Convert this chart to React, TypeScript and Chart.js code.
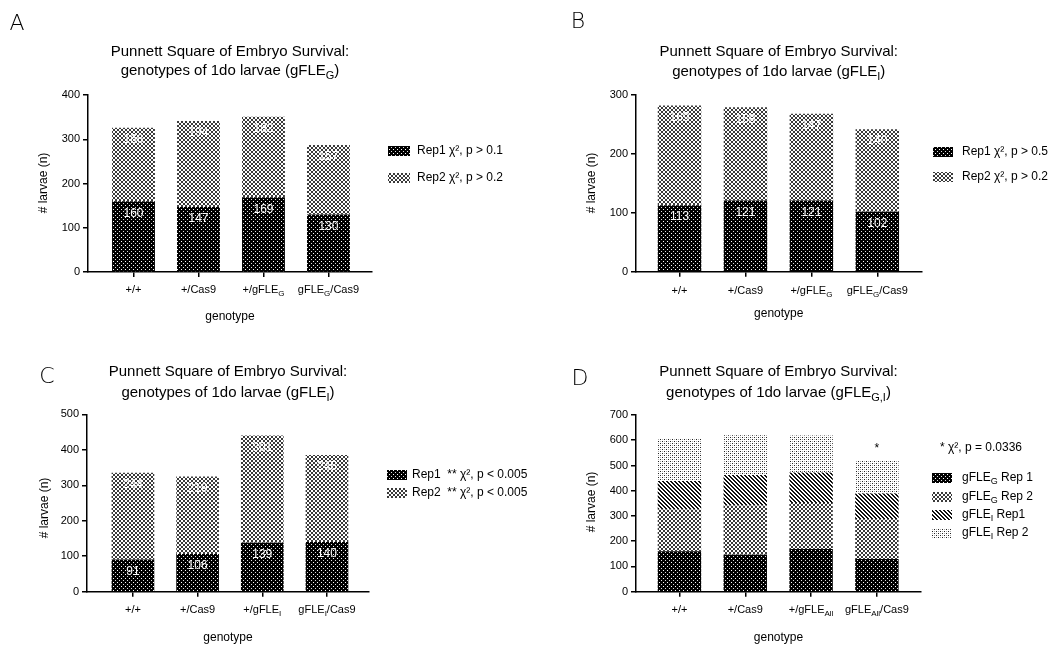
import React, { useEffect, useRef } from 'react';
import { Chart, registerables } from 'chart.js';

Chart.register(...registerables);

const FONT = '"Liberation Sans", Arial, Helvetica, sans-serif';

// ---------- Panel A ----------
const catsA = ['+/+', '+/Cas9', '+/gFLE_{G}', 'gFLE_{G}/Cas9'];
const rep1A = [160, 147, 169, 130];
const rep2A = [166, 194, 182, 157];
const yTicksA = [0, 100, 200, 300, 400];
const legendA = ['Rep1 χ², p > 0.1', 'Rep2 χ², p > 0.2'];
const titleA = ['Punnett Square of Embryo Survival:', 'genotypes of 1do larvae (gFLE_{G})'];

// ---------- Panel B ----------
const catsB = ['+/+', '+/Cas9', '+/gFLE_{G}', 'gFLE_{G}/Cas9'];
const rep1B = [113, 121, 121, 102];
const rep2B = [169, 158, 147, 140];
const yTicksB = [0, 100, 200, 300];
const legendB = ['Rep1 χ², p > 0.5', 'Rep2 χ², p > 0.2'];
const titleB = ['Punnett Square of Embryo Survival:', 'genotypes of 1do larvae (gFLE_{I})'];

// ---------- Panel C ----------
const catsC = ['+/+', '+/Cas9', '+/gFLE_{I}', 'gFLE_{I}/Cas9'];
const rep1C = [91, 106, 139, 140];
const rep2C = [244, 219, 301, 245];
const yTicksC = [0, 100, 200, 300, 400, 500];
const legendC = ['Rep1  ** χ², p < 0.005', 'Rep2  ** χ², p < 0.005'];
const titleC = ['Punnett Square of Embryo Survival:', 'genotypes of 1do larvae (gFLE_{I})'];

// ---------- Panel D ----------
const catsD = ['+/+', '+/Cas9', '+/gFLE_{All}', 'gFLE_{All}/Cas9'];
const gRep1D = [160, 147, 169, 130];
const gRep2D = [166, 194, 182, 157];
const iRep1D = [113, 121, 121, 102];
const iRep2D = [169, 158, 147, 131];
const yTicksD = [0, 100, 200, 300, 400, 500, 600, 700];
const legendD = ['gFLE_{G} Rep 1', 'gFLE_{G} Rep 2', 'gFLE_{I} Rep1', 'gFLE_{I} Rep 2'];
const legendHeaderD = '* χ², p = 0.0336';
const starsD = ['', '', '', '*'];
const titleD = ['Punnett Square of Embryo Survival:', 'genotypes of 1do larvae (gFLE_{G,I})'];

const yTitle = '# larvae (n)';
const xTitle = 'genotype';

type Series = { data: number[]; fill: string; label: string; values: boolean };
type Panel = {
  letter: string;
  box: { left: number; top: number; w: number; h: number };
  area: { l: number; r: number; t: number; b: number };
  xMin: number;
  xMax: number;
  cats: string[];
  series: Series[];
  yTicks: number[];
  letterPos: [number, number];
  title: string[];
  titleY: [number, number];
  titleSize: number;
  yTitlePos: [number, number];
  xLabelY: number;
  xTitleY: number;
  legendSw: [number, number];
  legendTextX: number;
  legendYs: number[];
  legendTexts: string[];
  legendHeader?: { text: string; x: number; y: number };
  stars?: string[];
};

const panels: Panel[] = [
  {
    letter: 'A',
    box: { left: 0, top: 0, w: 530, h: 325 },
    area: { l: 88, r: 372, t: 95, b: 272 },
    xMin: -0.7, xMax: 3.67,
    cats: catsA,
    series: [
      { data: rep1A, fill: 'dark', label: legendA[0], values: true },
      { data: rep2A, fill: 'cross', label: legendA[1], values: true },
    ],
    yTicks: yTicksA,
    letterPos: [17, 24],
    title: titleA, titleY: [52, 71], titleSize: 15,
    yTitlePos: [44, 183],
    xLabelY: 290, xTitleY: 317,
    legendSw: [388, 22], legendTextX: 417, legendYs: [151, 178], legendTexts: legendA,
  },
  {
    letter: 'B',
    box: { left: 530, top: 0, w: 533, h: 325 },
    area: { l: 106, r: 391.5, t: 95, b: 271.7 },
    xMin: -0.66, xMax: 3.67,
    cats: catsB,
    series: [
      { data: rep1B, fill: 'dark', label: legendB[0], values: true },
      { data: rep2B, fill: 'cross', label: legendB[1], values: true },
    ],
    yTicks: yTicksB,
    letterPos: [48, 22],
    title: titleB, titleY: [52, 72], titleSize: 15,
    yTitlePos: [62, 183],
    xLabelY: 291, xTitleY: 314,
    legendSw: [403, 20], legendTextX: 432, legendYs: [152, 177], legendTexts: legendB,
  },
  {
    letter: 'C',
    box: { left: 0, top: 325, w: 530, h: 326 },
    area: { l: 87, r: 369, t: 89.3, b: 266.7 },
    xMin: -0.71, xMax: 3.65,
    cats: catsC,
    series: [
      { data: rep1C, fill: 'dark', label: legendC[0], values: true },
      { data: rep2C, fill: 'cross', label: legendC[1], values: true },
    ],
    yTicks: yTicksC,
    letterPos: [47, 52],
    title: titleC, titleY: [47, 68], titleSize: 15,
    yTitlePos: [45, 183],
    xLabelY: 285, xTitleY: 313,
    legendSw: [387, 20], legendTextX: 412, legendYs: [150, 168], legendTexts: legendC,
  },
  {
    letter: 'D',
    box: { left: 530, top: 325, w: 533, h: 326 },
    area: { l: 106, r: 391, t: 90, b: 266.7 },
    xMin: -0.66, xMax: 3.67,
    cats: catsD,
    series: [
      { data: gRep1D, fill: 'dark', label: legendD[0], values: false },
      { data: gRep2D, fill: 'cross', label: legendD[1], values: false },
      { data: iRep1D, fill: 'stripes', label: legendD[2], values: false },
      { data: iRep2D, fill: 'dots', label: legendD[3], values: false },
    ],
    yTicks: yTicksD,
    letterPos: [50, 54],
    title: titleD, titleY: [47, 68], titleSize: 15,
    yTitlePos: [62, 177],
    xLabelY: 285, xTitleY: 313,
    legendSw: [402, 20], legendTextX: 432, legendYs: [153, 172, 190, 208], legendTexts: legendD,
    legendHeader: { text: legendHeaderD, x: 410, y: 123 },
    stars: starsD,
  },
];

function makePattern(kind: string): CanvasPattern | string {
  const c = document.createElement('canvas');
  c.width = 4;
  c.height = 4;
  const g = c.getContext('2d');
  if (!g) return '#888';
  const px = (x: number, y: number, col: string) => {
    g.fillStyle = col;
    g.fillRect(x, y, 1, 1);
  };
  if (kind === 'dark') {
    g.fillStyle = '#000';
    g.fillRect(0, 0, 4, 4);
    px(1, 1, '#fff');
    px(3, 3, '#ddd');
  } else {
    g.fillStyle = '#fff';
    g.fillRect(0, 0, 4, 4);
    for (let y = 0; y < 4; y++) {
      for (let x = 0; x < 4; x++) {
        if (kind === 'cross' && (x === y || x + y === 3)) px(x, y, '#3a3a3a');
        if (kind === 'stripes' && ((x - y + 8) % 4 === 0 || (x - y + 8) % 4 === 1)) px(x, y, '#111');
      }
    }
    if (kind === 'dots') {
      px(0, 0, '#222');
      px(2, 2, '#222');
      px(0, 2, '#aaa');
      px(2, 0, '#aaa');
    }
  }
  return g.createPattern(c, 'repeat') || '#888';
}

function parseRich(s: string) {
  const out: { t: string; sub: boolean }[] = [];
  const re = /_\{([^}]*)\}/g;
  let last = 0;
  let m: RegExpExecArray | null;
  while ((m = re.exec(s))) {
    if (m.index > last) out.push({ t: s.slice(last, m.index), sub: false });
    out.push({ t: m[1], sub: true });
    last = re.lastIndex;
  }
  if (last < s.length) out.push({ t: s.slice(last), sub: false });
  return out;
}

function drawRich(
  ctx: CanvasRenderingContext2D,
  s: string,
  x: number,
  y: number,
  size: number,
  align: 'center' | 'left',
  color = '#000'
) {
  const segs = parseRich(s);
  const fN = `${size}px ${FONT}`;
  const fS = `${Math.round(size * 0.72)}px ${FONT}`;
  let total = 0;
  const widths = segs.map((sg) => {
    ctx.font = sg.sub ? fS : fN;
    const w = ctx.measureText(sg.t).width;
    total += w;
    return w;
  });
  let cx = align === 'center' ? x - total / 2 : x;
  ctx.textAlign = 'left';
  ctx.textBaseline = 'middle';
  ctx.fillStyle = color;
  segs.forEach((sg, i) => {
    ctx.font = sg.sub ? fS : fN;
    ctx.fillText(sg.t, cx, sg.sub ? y + size * 0.32 : y);
    cx += widths[i];
  });
}

function PanelChart({ p }: { p: Panel }) {
  const ref = useRef<HTMLCanvasElement>(null);
  useEffect(() => {
    const canvas = ref.current;
    if (!canvas) return;
    const fills = p.series.map((s) => makePattern(s.fill));
    const deco = {
      id: 'deco',
      afterDatasetsDraw(chart: any) {
        const ctx: CanvasRenderingContext2D = chart.ctx;
        ctx.save();
        p.series.forEach((s, k) => {
          if (!s.values) return;
          const meta = chart.getDatasetMeta(k);
          meta.data.forEach((el: any, i: number) => {
            ctx.font = `12px ${FONT}`;
            ctx.fillStyle = '#fff';
            ctx.textAlign = 'center';
            ctx.textBaseline = 'middle';
            ctx.fillText(String(s.data[i]), el.x, el.y + 12);
          });
        });
        if (p.stars) {
          const top = chart.getDatasetMeta(p.series.length - 1);
          top.data.forEach((el: any, i: number) => {
            const st = p.stars ? p.stars[i] : '';
            if (!st) return;
            ctx.font = `12px ${FONT}`;
            ctx.fillStyle = '#000';
            ctx.textAlign = 'center';
            ctx.textBaseline = 'middle';
            ctx.fillText(st, el.x, el.y - 12);
          });
        }
        ctx.restore();
      },
      afterDraw(chart: any) {
        const ctx: CanvasRenderingContext2D = chart.ctx;
        const ca = chart.chartArea;
        const cx = (ca.left + ca.right) / 2;
        ctx.save();
        ctx.font = `300 22px "DejaVu Sans", ${FONT}`;
        ctx.fillStyle = '#000';
        ctx.textAlign = 'center';
        ctx.textBaseline = 'middle';
        ctx.fillText(p.letter, p.letterPos[0], p.letterPos[1]);
        drawRich(ctx, p.title[0], cx, p.titleY[0], p.titleSize, 'center');
        drawRich(ctx, p.title[1], cx, p.titleY[1], p.titleSize, 'center');
        ctx.save();
        ctx.translate(p.yTitlePos[0], p.yTitlePos[1]);
        ctx.rotate(-Math.PI / 2);
        ctx.font = `12px ${FONT}`;
        ctx.textAlign = 'center';
        ctx.textBaseline = 'middle';
        ctx.fillStyle = '#000';
        ctx.fillText(yTitle, 0, 0);
        ctx.restore();
        const xs = chart.scales.x;
        p.cats.forEach((c, i) => {
          drawRich(ctx, c, xs.getPixelForValue(i), p.xLabelY, 11, 'center');
        });
        ctx.font = `12px ${FONT}`;
        ctx.textAlign = 'center';
        ctx.textBaseline = 'middle';
        ctx.fillStyle = '#000';
        ctx.fillText(xTitle, cx, p.xTitleY);
        if (p.legendHeader) {
          drawRich(ctx, p.legendHeader.text, p.legendHeader.x, p.legendHeader.y, 12, 'left');
        }
        p.series.forEach((s, k) => {
          const y = p.legendYs[k];
          ctx.fillStyle = fills[k] as any;
          ctx.fillRect(p.legendSw[0], y - 5, p.legendSw[1], 10);
          drawRich(ctx, p.legendTexts[k], p.legendTextX, y, 12, 'left');
        });
        ctx.restore();
      },
    };
    const chart = new Chart(canvas, {
      type: 'bar',
      data: {
        datasets: p.series.map((s, k) => ({
          label: s.label,
          data: s.data.map((v, i) => ({ x: i, y: v })),
          backgroundColor: fills[k] as any,
          borderWidth: 0,
          barPercentage: 0.66,
          categoryPercentage: 1,
        })),
      },
      options: {
        responsive: false,
        animation: false,
        events: [],
        layout: { padding: { left: 0, right: p.box.w - p.area.r, top: p.area.t, bottom: 0 } },
        plugins: {
          legend: { display: false },
          title: { display: false },
          tooltip: { enabled: false },
        },
        scales: {
          x: {
            type: 'linear',
            stacked: true,
            offset: false,
            min: p.xMin,
            max: p.xMax,
            afterBuildTicks: (s: any) => {
              s.ticks = p.cats.map((_, i) => ({ value: i }));
            },
            afterFit: (s: any) => {
              s.height = p.box.h - p.area.b;
            },
            ticks: { callback: () => '', autoSkip: false },
            grid: { offset: false, drawOnChartArea: false, drawTicks: true, tickLength: 5, color: '#000', lineWidth: 1.5 },
            border: { color: '#000', width: 1.5 },
          },
          y: {
            type: 'linear',
            stacked: true,
            min: 0,
            max: p.yTicks[p.yTicks.length - 1],
            afterBuildTicks: (s: any) => {
              s.ticks = p.yTicks.map((v) => ({ value: v }));
            },
            afterFit: (s: any) => {
              s.width = p.area.l;
            },
            ticks: { font: { size: 11, family: FONT }, color: '#000', padding: 3 },
            grid: { drawOnChartArea: false, drawTicks: true, tickLength: 5, color: '#000', lineWidth: 1.5 },
            border: { color: '#000', width: 1.5 },
          },
        },
      } as any,
      plugins: [deco],
    });
    return () => chart.destroy();
  }, [p]);
  return (
    <canvas
      ref={ref}
      width={p.box.w}
      height={p.box.h}
      style={{ position: 'absolute', left: p.box.left, top: p.box.top, width: p.box.w, height: p.box.h }}
    />
  );
}

export default function App() {
  return (
    <div style={{ position: 'absolute', left: 0, top: 0, width: 1063, height: 651, background: '#fff', overflow: 'hidden' }}>
      {panels.map((p) => (
        <PanelChart key={p.letter} p={p} />
      ))}
    </div>
  );
}
